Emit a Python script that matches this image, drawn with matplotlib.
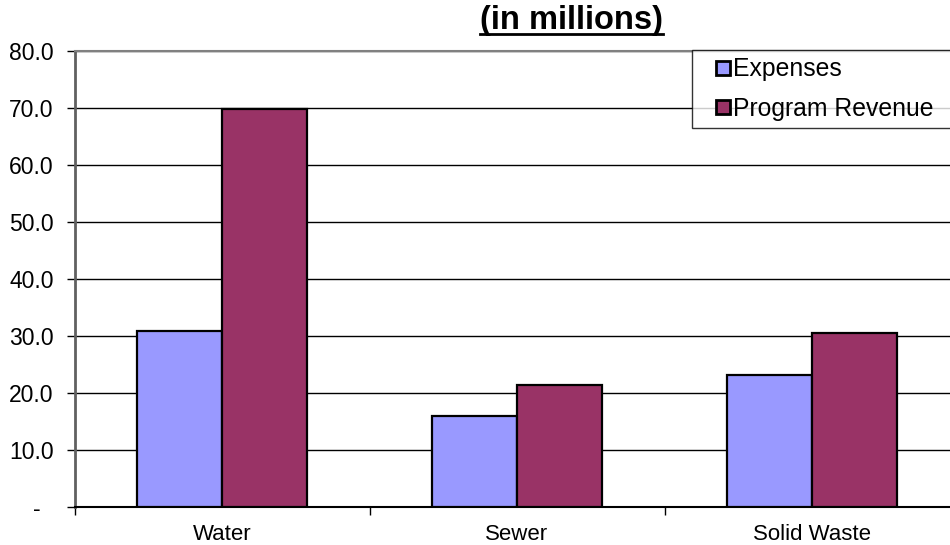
import numpy as np
import matplotlib
matplotlib.use("Agg")
import matplotlib.pyplot as plt
from matplotlib.lines import Line2D

plt.rcParams['font.family'] = ['Liberation Sans', 'DejaVu Sans']

categories = ["Water", "Sewer", "Solid Waste"]
expenses = [30.8, 16.0, 23.2]
revenue = [69.9, 21.4, 30.5]
yticks = [0, 10, 20, 30, 40, 50, 60, 70, 80]

colors = {"Expenses": "#9999FF", "Program Revenue": "#993366"}

fig = plt.figure(figsize=(9.5, 5.45), dpi=100)
ax = fig.add_axes([74.5 / 950, 38 / 545, 885 / 950, 456 / 545])

x = np.arange(len(categories))
w = 0.288
ax.bar(x - w / 2, expenses, w, color=colors["Expenses"], edgecolor="black",
       linewidth=1.6, zorder=3)
ax.bar(x + w / 2, revenue, w, color=colors["Program Revenue"],
       edgecolor="black", linewidth=1.6, zorder=3)

ax.set_xlim(-0.5, len(categories) - 0.5)
ax.set_ylim(0, 80)
ax.set_yticks(yticks)
ax.set_yticklabels(["-  " if v == 0 else "%.1f" % v for v in yticks])
ax.yaxis.grid(True, color="black", linewidth=1.0, zorder=0)
ax.set_axisbelow(True)

# category labels sit between the boundary ticks
ax.set_xticks(np.arange(len(categories) + 1) - 0.5)
ax.set_xticklabels([])
ax.set_xticks(x, minor=True)
ax.set_xticklabels(categories, minor=True)
ax.tick_params(axis="x", which="minor", length=0, labelsize=16, pad=12)
ax.tick_params(axis="x", which="major", length=6, width=1, color="black")
ax.tick_params(axis="y", length=6, width=1, labelsize=16.5, pad=9)

for side in ("top", "right"):
    ax.spines[side].set_color("#808080")
    ax.spines[side].set_linewidth(1.5)
ax.spines["left"].set_color("#606060")
ax.spines["left"].set_linewidth(2)
ax.spines["bottom"].set_color("black")
ax.spines["bottom"].set_linewidth(1.5)

handles = [Line2D([], [], linestyle="none", marker="s", markersize=10.5,
                  markerfacecolor=c, markeredgecolor="black",
                  markeredgewidth=2) for c in colors.values()]
leg = ax.legend(handles, list(colors.keys()), loc="upper left",
                bbox_to_anchor=(692 / 950, 0, 270 / 950, 1 - 50 / 545),
                bbox_transform=fig.transFigure, mode="expand",
                fontsize=17.8, frameon=True, fancybox=False,
                edgecolor="black", handlelength=1.9, handletextpad=-0.53,
                borderpad=0.3, labelspacing=0.62, borderaxespad=0)
leg.get_frame().set_linewidth(1.0)

title = fig.text(571 / 950, 1 - 21 / 545, "(in millions)", ha="center",
                 va="center", fontsize=23.5, fontweight="bold")
fig.canvas.draw()
bb = title.get_window_extent().transformed(fig.transFigure.inverted())
fig.add_artist(Line2D([bb.x0, bb.x1], [bb.y0 + 0.004, bb.y0 + 0.004],
                      transform=fig.transFigure, color="black", linewidth=2))

fig.savefig("out.png", dpi=100)
